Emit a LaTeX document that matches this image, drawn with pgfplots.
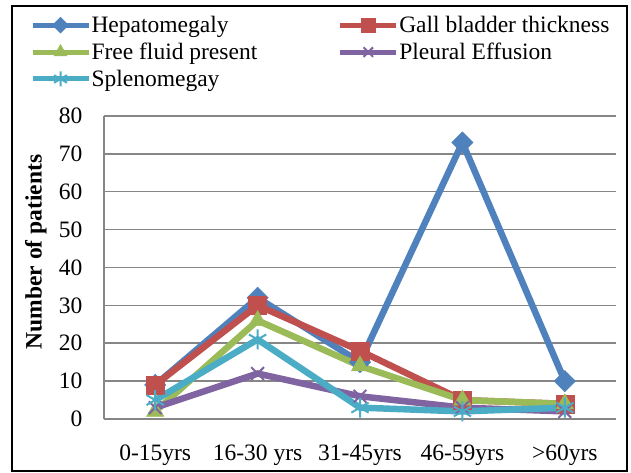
\documentclass[border=0pt]{standalone}
\usepackage{pgfplots}
\pgfplotsset{compat=1.18}
\usepackage{fontspec}
\setmainfont{Liberation Serif}
\definecolor{cblue}{HTML}{4F81BD}
\definecolor{cred}{HTML}{C0504D}
\definecolor{cgreen}{HTML}{9BBB59}
\definecolor{cpurple}{HTML}{8064A2}
\definecolor{ccyan}{HTML}{4BACC6}
\definecolor{cgrid}{HTML}{868686}
\newcommand{\cf}{\fontsize{23.5bp}{27bp}\selectfont}
\begin{document}
\begin{tikzpicture}[x=1bp,y=1bp]
\useasboundingbox (-104,-54) rectangle (527,419);
\draw[line width=1.5bp] (-92,-52) rectangle (523,413);
\begin{axis}[
  at={(0,0)}, anchor=south west,
  scale only axis, width=512bp, height=303bp,
  xmin=-0.5, xmax=4.5, ymin=0, ymax=80,
  ytick={0,10,...,80},
  xtick={0,1,2,3,4},
  xticklabels={0-15yrs,16-30 yrs,31-45yrs,46-59yrs,{>60yrs}},
  axis x line*=bottom, axis y line*=left,
  axis line style={draw=cgrid, line width=1.5bp},
  ymajorgrids, grid style={draw=cgrid, line width=1.5bp},
  major tick length=0pt,
  /pgf/number format/assume math mode=true,
  tick label style={font=\cf},
  yticklabel style={xshift=-18bp},
  xticklabel style={yshift=-22bp},
  ylabel={\textbf{Number of patients}},
  ylabel style={font=\cf, at={(axis description cs:-0.133,0.551)}, anchor=center},
  legend columns=2,
  legend cell align=left,
  legend style={draw=none, fill=none, font=\cf, inner sep=0pt, outer sep=0pt,
    row sep=5bp, nodes={inner xsep=0.5bp},
    at={(axis description cs:-0.1445,1.211)}, anchor=west,
    /tikz/column 2/.style={column sep=80bp}},
  legend image code/.code={\draw[mark repeat=2,mark phase=2,#1,line width=5bp,
     every mark/.append style={scale=0.75}]
     plot coordinates {(0bp,0bp) (28bp,0bp) (56bp,0bp)};},
  every axis plot/.append style={line width=6.5bp},
]
\addplot[cblue, mark=square*, mark size=7.5bp, mark options={rotate=45, line width=0.5bp}]
  coordinates {(0,9) (1,32) (2,15) (3,73) (4,10)};
\addlegendentry{Hepatomegaly}
\addplot[cred, mark=square*, mark size=9bp, mark options={line width=0.5bp}]
  coordinates {(0,9) (1,30) (2,18) (3,5) (4,4)};
\addlegendentry{Gall bladder thickness}
\addplot[cgreen, mark=triangle*, mark size=10bp, mark options={line width=0.5bp}]
  coordinates {(0,2) (1,26) (2,14) (3,5) (4,4)};
\addlegendentry{Free fluid present}
\addplot[cpurple, mark=x, mark size=9bp, mark options={line width=2bp}]
  coordinates {(0,3) (1,12) (2,6) (3,3) (4,2)};
\addlegendentry{Pleural Effusion}
\addplot[ccyan, mark=asterisk, mark size=10bp, mark options={line width=2bp}]
  coordinates {(0,5) (1,21) (2,3) (3,2) (4,3)};
\addlegendentry{Splenomegay}
\end{axis}
\end{tikzpicture}
\end{document}
